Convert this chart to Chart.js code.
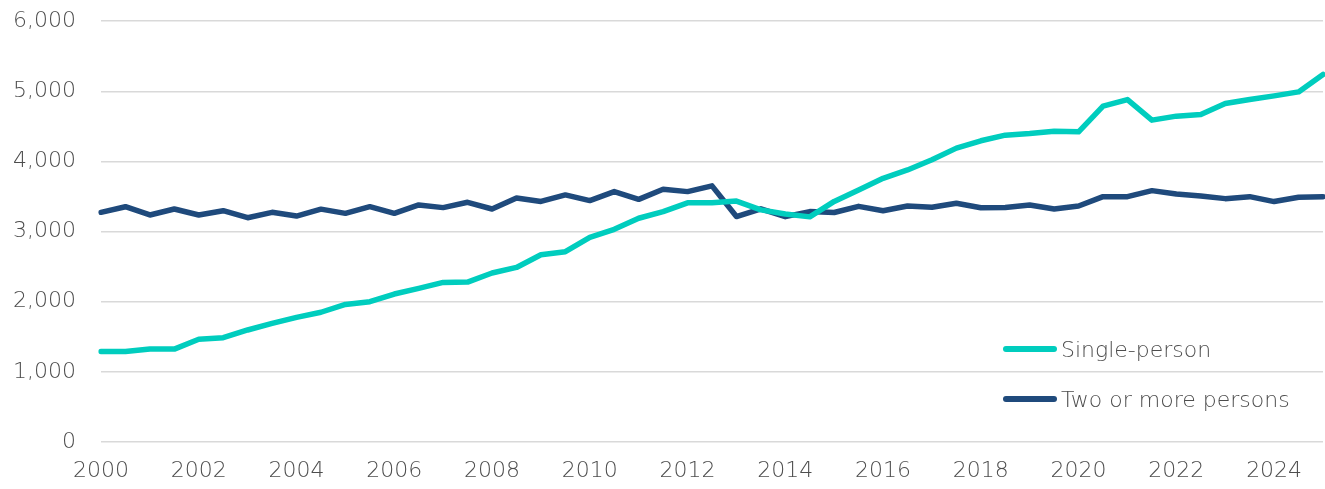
<!DOCTYPE html>
<html>
<head>
<meta charset="utf-8">
<script src="https://cdn.jsdelivr.net/npm/chart.js@4"></script>
<style>
  html, body { margin: 0; padding: 0; background: #fff; }
  #wrap { position: relative; width: 1325px; height: 489px; overflow: hidden; }
  #chart { position: absolute; left: 0; top: -17px; }
  #legend { position: absolute; left: 1003px; top: 324px; font-family: "DejaVu Sans", sans-serif; font-weight: 200; font-size: 22px; color: #4d4d4d; }
  .item { display: flex; align-items: center; height: 50px; }
  .swatch { width: 54px; height: 6px; border-radius: 3px; margin-right: 4px; }
</style>
</head>
<body>
<div id="wrap">
  <canvas id="chart" width="1325" height="506"></canvas>
  <div id="legend"></div>
</div>
<script>
// half-yearly periods, 2000 to 2025
const periods = [
  '2000', '2000.5', '2001', '2001.5', '2002', '2002.5', '2003', '2003.5', '2004', '2004.5',
  '2005', '2005.5', '2006', '2006.5', '2007', '2007.5', '2008', '2008.5', '2009', '2009.5',
  '2010', '2010.5', '2011', '2011.5', '2012', '2012.5', '2013', '2013.5', '2014', '2014.5',
  '2015', '2015.5', '2016', '2016.5', '2017', '2017.5', '2018', '2018.5', '2019', '2019.5',
  '2020', '2020.5', '2021', '2021.5', '2022', '2022.5', '2023', '2023.5', '2024', '2024.5',
  '2025'
];

const singlePerson = [
  1290, 1290, 1325, 1325, 1465, 1487, 1597, 1691, 1777, 1850,
  1962, 2000, 2110, 2190, 2275, 2280, 2410, 2489, 2670, 2713,
  2918, 3033, 3190, 3285, 3410, 3410, 3435, 3310, 3250, 3210,
  3430, 3594, 3760, 3879, 4024, 4190, 4295, 4375, 4399, 4432,
  4422, 4788, 4883, 4589, 4646, 4670, 4826, 4883, 4935, 4992,
  5240
];

const twoOrMore = [
  3275, 3355, 3237, 3322, 3237, 3298, 3198, 3275, 3222, 3320,
  3260, 3355, 3260, 3380, 3342, 3418, 3322, 3480, 3430, 3523,
  3442, 3570, 3460, 3603, 3570, 3652, 3215, 3325, 3213, 3285,
  3272, 3360, 3298, 3365, 3346, 3405, 3340, 3345, 3380, 3322,
  3365, 3498, 3498, 3584, 3535, 3508, 3470, 3498, 3428, 3489,
  3498
];

const seriesNames = ['Single-person', 'Two or more persons'];
const yTicks = [0, 1000, 2000, 3000, 4000, 5000, 6000];

const tickFont = { family: '"DejaVu Sans", sans-serif', size: 22, weight: 200 };

const chart = new Chart(document.getElementById('chart'), {
  type: 'line',
  data: {
    labels: periods,
    datasets: [
      { label: seriesNames[0], data: singlePerson, borderColor: '#00CDBE', backgroundColor: '#00CDBE' },
      { label: seriesNames[1], data: twoOrMore, borderColor: '#1F4A7C', backgroundColor: '#1F4A7C' }
    ]
  },
  options: {
    responsive: false,
    animation: false,
    layout: { padding: { top: 4, right: 2, left: 0, bottom: 0 } },
    elements: {
      line: { borderWidth: 5.5, tension: 0, borderJoinStyle: 'round', borderCapStyle: 'round' },
      point: { radius: 0 }
    },
    plugins: { legend: { display: false }, tooltip: { enabled: false } },
    scales: {
      x: {
        offset: false,
        grid: { display: false },
        border: { display: false },
        ticks: {
          autoSkip: false, maxRotation: 0, padding: 8, color: '#4d4d4d', font: tickFont,
          callback: function(v, i) { return i % 4 === 0 ? this.getLabelForValue(v) : null; }
        },
        afterFit: s => { s.height = 47; }
      },
      y: {
        min: 0, max: 6000,
        afterBuildTicks: s => { s.ticks = yTicks.map(v => ({ value: v })); },
        grid: { color: '#D9D9D9', lineWidth: 1.5, drawTicks: false },
        border: { display: false },
        ticks: { padding: 25, color: '#4d4d4d', font: tickFont,
          callback: v => v.toLocaleString('en-US') },
        afterFit: s => { s.width = 101; }
      }
    }
  }
});

// legend drawn inside the plot, bottom right
const legend = document.getElementById('legend');
chart.data.datasets.forEach(ds => {
  const item = document.createElement('div');
  item.className = 'item';
  item.innerHTML = `<span class="swatch" style="background:${ds.borderColor}"></span><span>${ds.label}</span>`;
  legend.appendChild(item);
});
</script>
</body>
</html>
